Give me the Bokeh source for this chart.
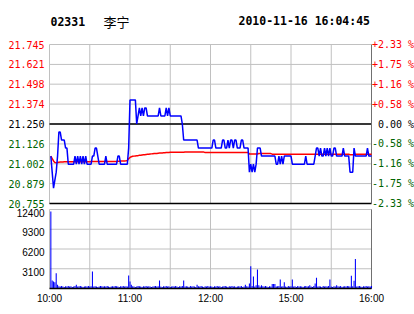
from bokeh.plotting import figure
from bokeh.models import ColumnDataSource, Range1d
from bokeh.core.properties import value
from bokeh.embed import file_html
from bokeh.resources import INLINE

# ---------------- data ----------------
stock_code = "02331"
stock_name = "李宁"
timestamp = "2010-11-16 16:04:45"
prev_close = 21.25

minutes = list(range(1, 241))  # 10:00-12:30, 14:30-16:00 (240 trading minutes)

price = [
    21.05, 20.95, 20.85, 20.90, 20.95, 21.05, 21.20, 21.20, 21.15, 21.15, 21.15, 21.10, 21.10, 21.00, 21.00, 21.00, 21.00, 21.00, 21.05, 21.00,
    21.05, 21.00, 21.05, 21.00, 21.05, 21.00, 21.05, 21.00, 21.00, 21.00, 21.00, 21.05, 21.05, 21.10, 21.10, 21.05, 21.00, 21.00, 21.00, 21.00,
    21.00, 21.05, 21.00, 21.00, 21.00, 21.00, 21.00, 21.00, 21.00, 21.00, 21.05, 21.05, 21.00, 21.00, 21.00, 21.00, 21.00, 21.00, 21.10, 21.40,
    21.40, 21.40, 21.40, 21.40, 21.25, 21.30, 21.35, 21.30, 21.35, 21.30, 21.35, 21.35, 21.30, 21.30, 21.30, 21.30, 21.30, 21.30, 21.30, 21.30,
    21.30, 21.35, 21.30, 21.30, 21.30, 21.30, 21.35, 21.30, 21.35, 21.30, 21.30, 21.30, 21.30, 21.30, 21.30, 21.30, 21.30, 21.30, 21.25, 21.15,
    21.15, 21.15, 21.15, 21.15, 21.15, 21.15, 21.15, 21.15, 21.15, 21.15, 21.10, 21.10, 21.10, 21.10, 21.10, 21.10, 21.10, 21.10, 21.10, 21.10,
    21.10, 21.15, 21.15, 21.10, 21.10, 21.10, 21.10, 21.10, 21.15, 21.15, 21.10, 21.10, 21.15, 21.10, 21.15, 21.15, 21.10, 21.15, 21.15, 21.10,
    21.10, 21.10, 21.15, 21.15, 21.10, 21.10, 21.10, 21.10, 20.95, 21.00, 20.95, 21.00, 20.95, 21.00, 21.10, 21.10, 21.10, 21.05, 21.05, 21.05,
    21.05, 21.05, 21.05, 21.05, 21.05, 21.05, 21.05, 21.05, 21.00, 21.00, 21.05, 21.00, 21.05, 21.00, 21.05, 21.05, 21.05, 21.05, 21.05, 21.05,
    21.00, 21.00, 21.00, 21.00, 21.00, 21.00, 21.00, 21.00, 21.00, 21.00, 21.05, 21.00, 21.00, 21.00, 21.00, 21.00, 21.00, 21.05, 21.10, 21.10,
    21.05, 21.10, 21.05, 21.05, 21.10, 21.05, 21.10, 21.05, 21.10, 21.05, 21.05, 21.10, 21.10, 21.05, 21.05, 21.05, 21.05, 21.05, 21.10, 21.05,
    21.05, 21.05, 21.05, 20.95, 20.95, 20.95, 21.10, 21.05, 21.05, 21.05, 21.05, 21.05, 21.05, 21.05, 21.05, 21.05, 21.10, 21.05, 21.05, 21.05,
]

avg_price = [
    21.050, 21.035, 21.020, 21.010, 21.008, 21.010, 21.012, 21.013, 21.014, 21.014, 21.015, 21.015, 21.015, 21.015, 21.015, 21.015, 21.015, 21.015, 21.015, 21.015,
    21.015, 21.015, 21.015, 21.015, 21.015, 21.015, 21.015, 21.015, 21.015, 21.015, 21.016, 21.016, 21.016, 21.016, 21.016, 21.016, 21.016, 21.016, 21.016, 21.016,
    21.017, 21.017, 21.017, 21.017, 21.017, 21.017, 21.017, 21.017, 21.017, 21.017, 21.018, 21.018, 21.019, 21.019, 21.020, 21.020, 21.021, 21.023, 21.033, 21.042,
    21.046, 21.049, 21.050, 21.051, 21.052, 21.053, 21.055, 21.056, 21.057, 21.058, 21.059, 21.060, 21.061, 21.062, 21.063, 21.064, 21.065, 21.066, 21.067, 21.067,
    21.068, 21.069, 21.070, 21.070, 21.071, 21.071, 21.072, 21.072, 21.073, 21.074, 21.074, 21.074, 21.074, 21.074, 21.074, 21.074, 21.074, 21.074, 21.074, 21.074,
    21.075, 21.075, 21.075, 21.075, 21.075, 21.075, 21.075, 21.075, 21.075, 21.075, 21.075, 21.075, 21.075, 21.075, 21.075, 21.073, 21.073, 21.073, 21.073, 21.073,
    21.073, 21.073, 21.073, 21.073, 21.073, 21.073, 21.073, 21.073, 21.073, 21.073, 21.073, 21.073, 21.073, 21.073, 21.073, 21.073, 21.073, 21.073, 21.073, 21.073,
    21.073, 21.073, 21.073, 21.073, 21.073, 21.073, 21.073, 21.073, 21.063, 21.063, 21.063, 21.063, 21.063, 21.063, 21.063, 21.066, 21.066, 21.066, 21.066, 21.066,
    21.066, 21.066, 21.066, 21.066, 21.066, 21.062, 21.062, 21.062, 21.062, 21.062, 21.062, 21.062, 21.062, 21.062, 21.062, 21.062, 21.062, 21.062, 21.062, 21.062,
    21.062, 21.062, 21.062, 21.062, 21.062, 21.062, 21.062, 21.062, 21.062, 21.062, 21.062, 21.062, 21.062, 21.062, 21.062, 21.062, 21.062, 21.062, 21.062, 21.062,
    21.062, 21.062, 21.062, 21.062, 21.062, 21.062, 21.062, 21.062, 21.062, 21.062, 21.062, 21.062, 21.062, 21.062, 21.062, 21.062, 21.062, 21.062, 21.062, 21.062,
    21.062, 21.062, 21.062, 21.059, 21.059, 21.059, 21.059, 21.061, 21.061, 21.061, 21.061, 21.061, 21.061, 21.061, 21.061, 21.061, 21.061, 21.061, 21.061, 21.061,
]

volume = [
    12100, 1250, 1100, 1000, 2400, 600, 350, 300, 400, 300, 250, 350, 300, 400, 300, 350, 250, 300, 400, 600,
    300, 350, 400, 300, 250, 300, 350, 300, 400, 300, 350, 2650, 300, 350, 300, 250, 300, 400, 350, 300,
    350, 300, 400, 300, 250, 300, 350, 300, 400, 350, 300, 250, 350, 300, 400, 300, 350, 300, 2050, 1100,
    600, 350, 300, 250, 300, 400, 350, 300, 250, 350, 300, 400, 300, 350, 300, 250, 300, 350, 400, 300,
    350, 1250, 300, 250, 350, 300, 400, 300, 350, 250, 300, 350, 300, 400, 300, 250, 350, 300, 400, 1250,
    300, 350, 300, 250, 400, 300, 350, 300, 250, 600, 350, 300, 400, 300, 250, 350, 300, 400, 300, 350,
    300, 250, 350, 300, 400, 300, 350, 250, 300, 350, 400, 300, 250, 350, 300, 400, 300, 350, 250, 300,
    350, 300, 400, 250, 300, 600, 350, 300, 800, 3500, 400, 1900, 300, 500, 3000, 500, 300, 500, 350, 300,
    400, 300, 250, 350, 300, 700, 700, 700, 300, 350, 400, 1400, 300, 350, 1000, 300, 250, 400, 300, 350,
    1400, 300, 350, 250, 400, 300, 350, 300, 250, 350, 400, 300, 350, 500, 300, 250, 400, 800, 1700, 300,
    350, 300, 250, 400, 300, 350, 300, 400, 1400, 300, 250, 350, 300, 500, 350, 300, 400, 250, 300, 350,
    300, 400, 350, 300, 2000, 350, 1200, 4650, 300, 350, 400, 300, 250, 350, 300, 400, 300, 350, 300, 400,
]

price_ticks = [21.745, 21.621, 21.498, 21.374, 21.250, 21.126, 21.002, 20.879, 20.755]
price_labels = ["21.745", "21.621", "21.498", "21.374", "21.250", "21.126", "21.002", "20.879", "20.755"]
pct_labels = ["+2.33 %", "+1.75 %", "+1.16 %", "+0.58 %", "\u00a00.00 %", "-0.58 %", "-1.16 %", "-1.75 %", "-2.33 %"]
vol_ticks = [3100, 6200, 9300, 12400]
vol_labels = ["3100", "6200", "9300", "12400"]
time_ticks = [0, 60, 120, 180, 240]
time_labels = ["10:00", "11:00", "12:00", "15:00", "16:00"]
grid_minutes = [0, 30, 60, 90, 120, 150, 180, 210, 240]

# ---------------- layout (pixels) & styling ----------------
W, H = 414, 314
L, R = 49, 371          # plot area left / right
PT, PB = 44, 203        # price panel top / bottom
VT, VB = 209, 288       # volume panel top / bottom
N_MIN = 240

RED = "#ff0000"
GREEN = "#006400"
BLUE = "#0000ff"
GRID = "#c0c0c0"
MONO = "DejaVu Sans Mono"
SANS = "Liberation Sans"

p_hi, p_lo = price_ticks[0], price_ticks[-1]
v_hi = vol_ticks[-1]

mpp = N_MIN / (R - L)                 # minutes per pixel
ppp = (p_hi - p_lo) / (PB - PT)       # price per pixel
vpp = v_hi / (VB - VT)                # volume per pixel


def px_x(px):
    return (px - L) * mpp


def px_price(py):
    return p_hi - (py - PT) * ppp


def px_vol(py):
    return (VB - py) * vpp


label_colors = [RED if t > prev_close + 1e-9 else (GREEN if t < prev_close - 1e-9 else "#000000") for t in price_ticks]

p = figure(width=W, height=H,
           x_range=Range1d(px_x(0), px_x(W)),
           y_range=Range1d(px_price(H), px_price(0)),
           x_axis_location=None, y_axis_location=None,
           toolbar_location=None, output_backend="svg",
           min_border=0, outline_line_color=None,
           background_fill_color="white", border_fill_color="white")
p.extra_y_ranges = {"vol": Range1d(px_vol(H), px_vol(0))}
p.xgrid.visible = False
p.ygrid.visible = False

# ---- grid lines: price panel ----
p.segment(x0=grid_minutes, x1=grid_minutes, y0=[p_lo] * len(grid_minutes), y1=[p_hi] * len(grid_minutes),
          line_color=GRID, line_width=1)
p.segment(x0=[0] * len(price_ticks), x1=[N_MIN] * len(price_ticks), y0=price_ticks, y1=price_ticks,
          line_color=GRID, line_width=1)
p.segment(x0=[0, 0], x1=[N_MIN, N_MIN], y0=[prev_close, p_lo], y1=[prev_close, p_lo],
          line_color="black", line_width=1.5)
p.segment(x0=[N_MIN], x1=[N_MIN], y0=[p_lo], y1=[p_hi], line_color="#707070", line_width=1)

# ---- grid lines: volume panel ----
p.segment(x0=grid_minutes, x1=grid_minutes, y0=[0] * len(grid_minutes), y1=[v_hi] * len(grid_minutes),
          line_color=GRID, line_width=1, y_range_name="vol")
p.segment(x0=[0] * len(vol_ticks), x1=[N_MIN] * len(vol_ticks), y0=vol_ticks, y1=vol_ticks,
          line_color=GRID, line_width=1, y_range_name="vol")
p.segment(x0=[N_MIN], x1=[N_MIN], y0=[0], y1=[v_hi], line_color="#707070", line_width=1, y_range_name="vol")

# ---- data marks ----
p.line(minutes, avg_price, line_color=RED, line_width=1.5)
p.line(minutes, price, line_color=BLUE, line_width=1.5)
p.vbar(x=minutes, top=volume, bottom=0, width=0.8, fill_color=BLUE, line_color=None, y_range_name="vol")
p.segment(x0=[0], x1=[N_MIN], y0=[0], y1=[0], line_color="black", line_width=1.5, y_range_name="vol")

# ---- tick labels ----
tick_src = ColumnDataSource(dict(
    xl=[px_x(44)] * len(price_ticks), xr=[px_x(371.5)] * len(price_ticks),
    y=price_ticks, left=price_labels, right=pct_labels, color=label_colors))
p.text(x="xl", y="y", text="left", source=tick_src, text_align="right", text_baseline="middle",
       text_color="color", text_font=value(MONO), text_font_size=value("10px"))
p.text(x="xr", y="y", text="right", source=tick_src, text_align="left", text_baseline="middle",
       text_color="color", text_font=value(MONO), text_font_size=value("10px"))

p.text(x=[px_x(44)] * len(vol_ticks), y=vol_ticks, text=vol_labels, y_range_name="vol", y_offset=3,
       text_align="right", text_baseline="middle", text_color="black",
       text_font=value(SANS), text_font_size=value("10px"))

p.text(x=time_ticks, y=[px_vol(298)] * len(time_ticks), text=time_labels, y_range_name="vol",
       text_align="center", text_baseline="middle", text_color="black",
       text_font=value(SANS), text_font_size=value("10px"))

# ---- header ----
p.text(x=[px_x(50), px_x(238)], y=[px_price(20.5)] * 2, text=[stock_code, timestamp],
       text_align="left", text_baseline="alphabetic", text_color="black",
       text_font=value(MONO), text_font_style=value("bold"), text_font_size=value("11.5px"))
p.text(x=[px_x(103)], y=[px_price(20.5)], text=[stock_name],
       text_align="left", text_baseline="alphabetic", text_color="black",
       text_font=value("Noto Sans CJK SC"), text_font_size=value("13px"))

open("out.html", "w").write(file_html(p, INLINE))
